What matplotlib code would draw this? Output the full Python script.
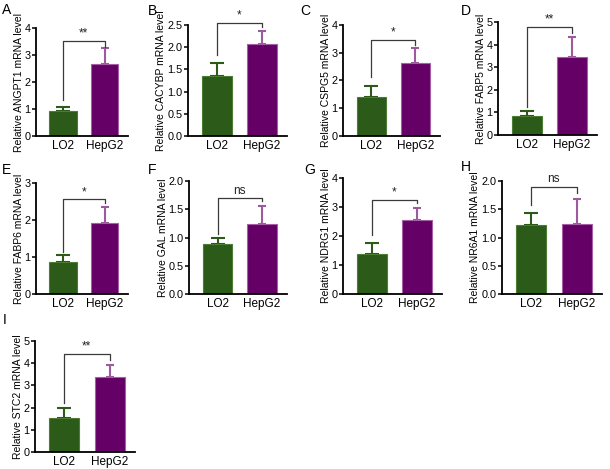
import matplotlib
matplotlib.use("Agg")
import matplotlib.pyplot as plt

plt.rcParams['font.family'] = ['Liberation Sans', 'DejaVu Sans']

W, H = 610, 469
groups = ["LO2", "HepG2"]
genes = ["ANGPT1", "CACYBP", "CSPG5", "FABP5", "FABP6", "GAL", "NDRG1", "NR6A1", "STC2"]
letters = ["A", "B", "C", "D", "E", "F", "G", "H", "I"]
lo2_mean = [0.93, 1.35, 1.42, 0.84, 0.87, 0.88, 1.38, 1.22, 1.52]
lo2_err = [0.13, 0.30, 0.38, 0.22, 0.18, 0.11, 0.37, 0.21, 0.45]
hep_mean = [2.67, 2.07, 2.62, 3.47, 1.91, 1.24, 2.55, 1.24, 3.39]
hep_err = [0.58, 0.30, 0.54, 0.88, 0.45, 0.31, 0.42, 0.45, 0.53]
ymax = [4, 2.5, 4, 5, 3, 2.0, 4, 2.0, 5]
ystep = [1, 0.5, 1, 1, 1, 0.5, 1, 0.5, 1]
sig = ["**", "*", "*", "**", "*", "ns", "*", "ns", "**"]
br_top = [3.52, 2.54, 3.46, 4.77, 2.56, 1.70, 3.24, 1.90, 4.41]
br_left = [1.33, 1.82, 2.14, 1.25, 1.14, 1.07, 2.03, 1.58, 2.19]
br_right = [3.31, 2.45, 3.28, 4.50, 2.45, 1.65, 3.13, 1.79, 4.14]

# axes boxes in pixels: left, right, top, bottom
boxes = [(36, 128, 28, 136), (188, 287, 25, 136), (343, 440, 25, 136), (498, 597, 22, 135),
         (36, 128, 183, 294), (189, 287, 181, 294), (343, 442, 178, 294), (502, 602, 181, 294),
         (35, 135, 341, 452)]
letter_pos = [(2, 3), (148, 4), (300, 4), (461, 4), (2, 163), (148, 163), (304, 163), (461, 160), (3, 313)]

green = "#2b5a19"
green_edge = "#4d7d34"
purple = "#650066"
purple_edge = "#a65fa6"
purple_err = "#9d5a9d"

fig = plt.figure(figsize=(W / 100, H / 100), dpi=100)
for i in range(9):
    l, r, t, b = boxes[i]
    ax = fig.add_axes([l / W, 1 - b / H, (r - l) / W, (b - t) / H])
    x = [0, 1]
    ax.bar(x[0], lo2_mean[i], width=0.66, color=green, edgecolor=green_edge, linewidth=0.8, zorder=2)
    ax.bar(x[1], hep_mean[i], width=0.66, color=purple, edgecolor=purple_edge, linewidth=0.8, zorder=2)
    ax.errorbar(x[0], lo2_mean[i], yerr=[[0], [lo2_err[i]]], fmt='none', ecolor=green,
                elinewidth=1.5, capsize=5, capthick=1.5, zorder=1)
    ax.errorbar(x[1], hep_mean[i], yerr=[[0], [hep_err[i]]], fmt='none', ecolor=purple_err,
                elinewidth=1.5, capsize=3, capthick=1.5, zorder=1)
    ax.plot([0, 0, 1, 1], [br_left[i], br_top[i], br_top[i], br_right[i]], color="#3a3a3a",
            lw=0.9, clip_on=False, zorder=3)
    ax.text(0.5, br_top[i] + ymax[i] * 0.012, sig[i], ha='center', va='bottom', fontsize=8.5,
            color="#222222", clip_on=False)
    ax.set_xlim(-0.64, 1.56)
    ax.set_ylim(0, ymax[i])
    n = int(round(ymax[i] / ystep[i]))
    ticks = [k * ystep[i] for k in range(n + 1)]
    ax.set_yticks(ticks)
    if ystep[i] < 1:
        ax.set_yticklabels([f"{v:.1f}" for v in ticks])
    else:
        ax.set_yticklabels([f"{int(v)}" for v in ticks])
    ax.set_xticks(x)
    ax.set_xticklabels(groups)
    ax.tick_params(axis='x', length=0, labelsize=8.5, pad=3)
    ax.tick_params(axis='y', length=3, width=1.1, labelsize=7.8, pad=1)
    for s in ['top', 'right']:
        ax.spines[s].set_visible(False)
    for s in ['left', 'bottom']:
        ax.spines[s].set_linewidth(1.3)
    ax.set_ylabel(f"Relative {genes[i]} mRNA level", fontsize=7.5, labelpad=0.5)
    lx, ly = letter_pos[i]
    fig.text(lx / W, 1 - ly / H, letters[i], ha='left', va='top', fontsize=10)

fig.savefig("out.png", dpi=100)
